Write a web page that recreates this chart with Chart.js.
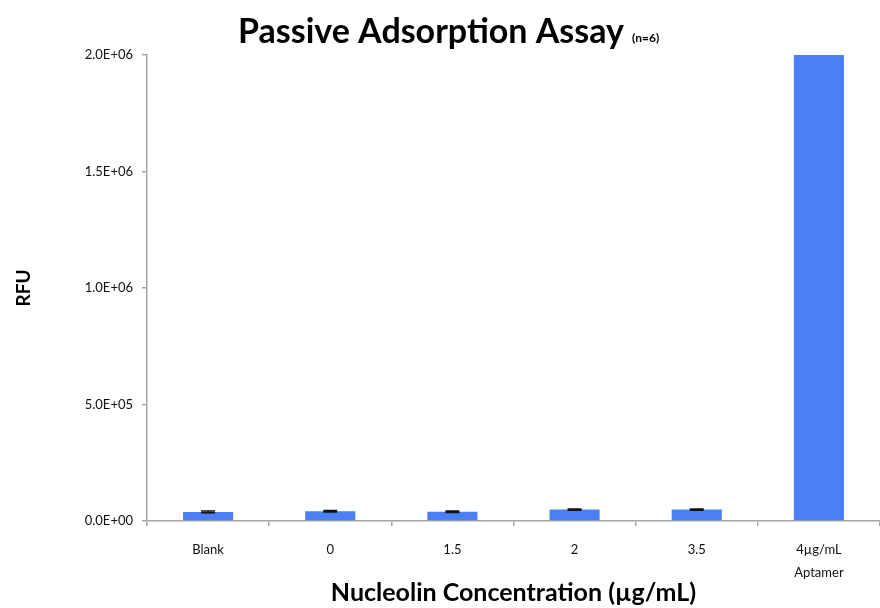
<!DOCTYPE html>
<html>
<head>
<meta charset="utf-8">
<script src="https://cdn.jsdelivr.net/npm/chart.js@4"></script>
<style>
    html, body { margin: 0; padding: 0; background: #fff; }
    #wrap { width: 880px; height: 608px; position: relative; }
</style>
</head>
<body>
<div id="wrap"><canvas id="assayChart" width="880" height="608"></canvas></div>
<script>
const categories = ['Blank', '0', '1.5', '2', '3.5', ['4µg/mL', 'Aptamer']];
const rfuValues = [39000, 42000, 40000, 49000, 49000, 2000000];
const rfuErrors = [3500, 3500, 3000, 3000, 3000, 0];
const yTicks = [0, 500000, 1000000, 1500000, 2000000];

const titleText = 'Passive Adsorption Assay';
const titleNote = '(n=6)';

function sciLabel(v) {
    const parts = Number(v).toExponential(1).toUpperCase().split('E');
    const sign = parts[1][0] === '-' ? '-' : '+';
    const exp = parts[1].replace(/[+-]/, '').padStart(2, '0');
    return parts[0] + 'E' + sign + exp;
}

const titlePlugin = {
    id: 'titlePlugin',
    afterDraw(chart) {
        const ctx = chart.ctx;
        ctx.save();
        ctx.fillStyle = '#000';
        ctx.textBaseline = 'alphabetic';
        ctx.font = 'bold 34px Lato';
        ctx.fillText(titleText, 238, 43);
        const w = ctx.measureText(titleText).width;
        ctx.font = 'bold 12px Lato';
        ctx.fillText(titleNote, 238 + w + 8, 42);
        ctx.restore();
    }
};

const errorBarPlugin = {
    id: 'errorBars',
    afterDatasetsDraw(chart) {
        const ctx = chart.ctx;
        const meta = chart.getDatasetMeta(0);
        const y = chart.scales.y;
        ctx.save();
        ctx.strokeStyle = '#111';
        ctx.lineWidth = 1.5;
        meta.data.forEach((bar, i) => {
            const err = rfuErrors[i];
            if (!err) return;
            const top = y.getPixelForValue(rfuValues[i] + err);
            const bot = y.getPixelForValue(rfuValues[i] - err);
            const cx = bar.x;
            ctx.beginPath();
            ctx.moveTo(cx, top); ctx.lineTo(cx, bot);
            ctx.moveTo(cx - 7, top); ctx.lineTo(cx + 7, top);
            ctx.moveTo(cx - 7, bot); ctx.lineTo(cx + 7, bot);
            ctx.stroke();
        });
        ctx.restore();
    }
};

const ctx = document.getElementById('assayChart').getContext('2d');
new Chart(ctx, {
    type: 'bar',
    data: {
        labels: categories,
        datasets: [{
            data: rfuValues,
            backgroundColor: '#4a7ff5',
            borderWidth: 0,
            barPercentage: 0.41,
            categoryPercentage: 1
        }]
    },
    options: {
        responsive: false,
        animation: false,
        layout: { padding: { top: 55, left: 0, right: 0, bottom: 0 } },
        plugins: {
            legend: { display: false },
            title: { display: false },
            tooltip: { enabled: false }
        },
        scales: {
            y: {
                min: 0,
                max: 2000000,
                afterBuildTicks(scale) {
                    scale.ticks = yTicks.map(v => ({ value: v }));
                },
                afterFit(scale) { scale.width = 147; },
                border: { color: '#a6a6a6', width: 1.5 },
                grid: { drawOnChartArea: false, color: '#a6a6a6', tickLength: 5, lineWidth: 1.5 },
                ticks: {
                    callback: v => sciLabel(v),
                    color: '#111',
                    font: { family: 'Lato', size: 13 },
                    padding: 9
                },
                title: {
                    display: true,
                    text: 'RFU',
                    color: '#000',
                    font: { family: 'Lato', size: 19, weight: 'bold' },
                    padding: { top: 12, bottom: 4 }
                }
            },
            x: {
                afterFit(scale) { scale.height = 87; },
                border: { color: '#a6a6a6', width: 1.5 },
                grid: { drawOnChartArea: false, offset: true, color: '#a6a6a6', tickLength: 5, lineWidth: 1.5 },
                ticks: {
                    color: '#111',
                    font: { family: 'Lato', size: 13, lineHeight: 1.8 },
                    padding: 12,
                    maxRotation: 0
                },
                title: {
                    display: true,
                    text: 'Nucleolin Concentration (µg/mL)',
                    color: '#000',
                    font: { family: 'Lato', size: 25, weight: 'bold' },
                    padding: { top: 4, bottom: 0 }
                }
            }
        }
    },
    plugins: [titlePlugin, errorBarPlugin]
});
</script>
</body>
</html>
